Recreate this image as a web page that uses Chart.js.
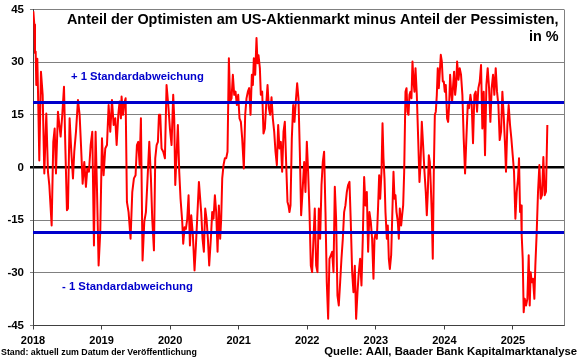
<!DOCTYPE html>
<html><head><meta charset="utf-8">
<script src="https://cdn.jsdelivr.net/npm/chart.js@4.4.1/dist/chart.umd.min.js"></script>
<style>html,body{margin:0;padding:0;background:#fff;overflow:hidden}canvas{display:block}</style>
</head><body>
<canvas id="c" width="580" height="359"></canvas>
<script>
// Weekly AAII bull-bear spread (decimal year, %)
const dates = [
2018.005,2018.019,2018.029,2018.039,2018.048,2018.063,2018.077,2018.092,2018.116,2018.141,2018.165,2018.194,2018.218,2018.238,2018.272,2018.296,2018.316,2018.335,2018.364,2018.384,2018.403,2018.427,2018.452,2018.471,2018.495,2018.510,2018.534,2018.559,2018.583,2018.602,2018.627,2018.656,2018.680,2018.700,2018.724,2018.748,2018.772,2018.792,2018.816,2018.841,2018.865,2018.889,2018.913,2018.933,2018.957,2018.981,2019.006,2019.030,2019.054,2019.079,2019.103,2019.127,2019.152,2019.176,2019.200,2019.220,
2019.244,2019.263,2019.282,2019.292,2019.312,2019.331,2019.351,2019.370,2019.394,2019.423,2019.448,2019.472,2019.496,2019.516,2019.535,2019.555,2019.574,2019.598,2019.623,2019.647,2019.671,2019.696,2019.720,2019.739,2019.764,2019.783,2019.803,2019.822,2019.837,2019.856,2019.875,2019.900,2019.924,2019.948,2019.973,2019.997,2020.021,2020.045,2020.060,2020.075,2020.094,2020.113,2020.133,2020.152,2020.177,2020.191,2020.211,2020.230,2020.250,2020.269,2020.289,2020.308,2020.332,2020.356,2020.376,2020.395,2020.420,
2020.453,2020.473,2020.492,2020.512,2020.531,2020.551,2020.570,2020.594,2020.614,2020.633,2020.653,2020.672,2020.692,2020.711,2020.730,2020.745,2020.760,2020.779,2020.798,2020.818,2020.837,2020.857,2020.876,2020.896,2020.915,2020.935,2020.954,2020.973,2020.993,2021.012,2021.032,2021.051,2021.075,2021.095,2021.114,2021.134,2021.153,2021.173,2021.192,2021.207,2021.221,2021.241,2021.260,2021.275,2021.289,2021.309,2021.323,2021.343,2021.362,2021.382,2021.401,2021.421,2021.440,2021.459,2021.479,2021.498,2021.518,2021.537,2021.557,2021.576,2021.595,2021.615,2021.634,2021.654,2021.673,
2021.692,2021.712,2021.726,2021.741,2021.756,2021.775,2021.795,2021.814,2021.833,2021.853,2021.872,2021.892,2021.911,2021.931,2021.955,2021.974,2021.994,2022.013,2022.033,2022.052,2022.071,2022.091,2022.110,2022.130,2022.149,2022.169,2022.188,2022.208,2022.227,2022.246,2022.266,2022.285,2022.305,2022.324,2022.344,2022.363,2022.383,2022.402,2022.421,2022.441,2022.460,2022.480,2022.499,2022.519,2022.538,2022.557,2022.577,2022.596,2022.616,2022.635,2022.655,2022.674,2022.694,2022.713,2022.733,2022.752,2022.771,2022.791,2022.810,2022.830,2022.849,2022.869,2022.888,2022.907,2022.927,2022.946,2022.966,
2022.981,2023.000,2023.015,2023.034,2023.049,2023.064,2023.083,2023.098,2023.112,2023.127,2023.141,2023.161,2023.175,2023.190,2023.205,2023.224,2023.239,2023.258,2023.273,2023.287,2023.302,2023.321,2023.336,2023.350,2023.370,2023.384,2023.399,2023.414,2023.433,2023.448,2023.462,2023.477,2023.491,2023.506,2023.520,2023.535,2023.550,2023.564,2023.579,2023.598,2023.618,2023.637,2023.652,2023.671,2023.690,2023.710,2023.729,2023.744,2023.759,2023.773,2023.788,2023.802,2023.817,2023.831,2023.846,2023.861,2023.875,2023.890,2023.904,2023.919,2023.934,2023.948,2023.963,2023.977,2023.992,2024.006,2024.021,2024.040,2024.055,2024.070,2024.084,2024.099,2024.113,2024.128,2024.142,2024.157,2024.172,2024.186,2024.206,
2024.224,2024.243,2024.263,2024.282,2024.302,2024.321,2024.341,2024.360,2024.380,2024.399,2024.418,2024.438,2024.457,2024.477,2024.496,2024.516,2024.535,2024.554,2024.574,2024.593,2024.613,2024.632,2024.652,2024.671,2024.690,2024.710,2024.729,2024.749,2024.768,2024.788,2024.807,2024.827,2024.846,2024.865,2024.885,2024.899,2024.919,2024.938,2024.958,2024.977,2024.997,2025.016,2025.036,2025.055,2025.075,2025.089,2025.104,2025.118,2025.128,2025.143,2025.157,2025.172,2025.191,2025.211,2025.230,2025.245,2025.259,2025.274,2025.293,2025.313,2025.327,2025.347,2025.366,2025.386,2025.405,2025.424,2025.444,2025.463,2025.482,2025.502
];
const spread = [
44.5,40.7,32.6,33.0,23.5,31.0,17.8,2.0,27.3,20.7,-1.7,15.4,-1.2,-5.0,-16.5,7.3,11.1,-1.7,15.9,12.1,8.8,15.0,23.0,6.4,-12.2,-11.7,14.0,4.5,-3.1,4.5,10.2,19.2,15.0,6.4,-4.6,1.6,-5.5,-0.3,-1.2,6.4,10.2,-22.2,10.2,-6.0,-27.9,-18.4,8.3,-2.2,5.4,6.4,17.8,10.2,19.2,12.1,14.0,6.4,
15.0,18.8,14.0,20.2,15.0,18.3,19.7,-9.8,-12.7,-20.3,-7.0,-3.1,-2.2,6.4,7.3,0.7,14.0,-26.5,-15.5,-12.7,-3.1,7.3,-3.1,-14.6,-23.6,2.6,6.4,7.3,15.0,15.0,5.4,4.5,2.6,23.5,17.8,11.1,6.4,20.7,14.0,-5.0,3.5,12.1,-1.2,-8.9,-15.5,-21.7,-17.0,-17.5,-14.6,-7.9,-22.2,-13.6,-19.3,-29.3,-22.2,-14.6,-4.1,
-12.7,-20.3,-24.0,-11.7,-14.6,-20.3,-27.9,-20.3,-12.7,-14.6,-7.9,-12.7,-24.0,-10.8,-20.3,-14.6,-3.1,0.7,2.6,2.6,4.5,31.1,18.8,19.7,26.4,20.7,21.6,17.8,20.7,14.0,13.0,8.3,-0.3,15.0,19.7,21.6,22.6,15.0,26.4,23.5,31.1,26.4,36.9,29.7,32.0,28.3,20.7,21.6,9.7,11.1,17.8,23.5,16.9,15.0,20.0,14.0,10.2,4.5,0.7,12.1,5.4,7.3,-1.2,10.2,13.0,
1.6,-9.8,-10.8,-12.7,-10.8,8.3,17.8,13.0,18.8,24.0,19.7,4.5,-13.6,-7.0,1.6,-7.0,7.3,-1.2,-12.7,-27.9,-29.8,-20.3,-11.7,-27.9,-29.8,-11.7,-20.3,-5.0,1.6,4.5,-12.7,-32.7,-43.1,-26.0,-25.0,-24.0,-29.8,-5.5,-14.6,-36.5,-39.3,-32.7,-26.0,-20.3,-12.7,-10.8,-7.0,-5.0,-4.1,-15.5,-29.8,-35.5,-28.0,-43.1,-35.5,-29.8,-26.0,-33.6,-20.3,-2.7,-10.8,-7.0,-24.0,-12.7,-15.5,-20.3,-31.7,
-20.3,-18.4,-20.3,-10.8,-2.2,-8.9,-1.2,12.6,2.6,-3.1,-12.7,-20.3,-16.5,-26.0,-28.9,-25.0,-14.6,-1.2,-8.9,-7.9,-12.7,-15.5,-20.3,-11.7,-16.5,-13.6,-10.8,-1.2,21.6,22.6,15.9,15.0,20.7,21.6,19.7,30.2,24.5,21.6,28.3,20.7,8.3,-4.1,0.7,13.0,6.4,-1.2,-7.0,-13.6,-7.0,3.5,1.6,-5.0,-13.6,-26.0,-1.2,15.0,15.9,20.7,28.3,22.6,27.3,32.1,30.2,24.5,24.5,21.6,23.5,14.0,13.0,17.8,26.4,21.6,18.8,23.5,27.3,20.7,23.5,30.2,25.0,
28.3,26.4,20.7,8.3,-1.7,8.3,17.8,16.9,20.7,17.8,6.9,20.7,21.6,15.9,22.6,24.5,29.2,11.1,21.6,3.5,23.5,28.3,22.6,13.0,22.6,26.4,20.7,28.3,21.6,17.8,7.8,10.2,21.6,15.0,6.4,-1.2,12.1,17.8,12.1,8.3,3.5,-1.2,-14.6,-7.0,-3.0,2.6,-12.7,-10.8,-19.3,-26.0,-41.2,-37.4,-39.3,-37.4,-25.0,-39.3,-29.8,-32.7,-31.7,-37.4,-27.9,-18.4,-7.0,0.7,-8.9,-7.9,3.0,-7.9,-6.9,12.1
];
const yearTicks = [2018,2019,2020,2021,2022,2023,2024,2025];
const valueTicks = [-45,-30,-15,0,15,30,45];
const stdDevBand = 18.5;
const xRange = [2018, 2025.745];
const yRange = [-45, 45];
const titleLines = ['Anteil der Optimisten am US-Aktienmarkt minus Anteil der Pessimisten,', 'in %'];
const bandLabels = ['+ 1 Standardabweichung', '- 1 Standardabweichung'];
const footLeft = 'Stand: aktuell zum Datum der Veröffentlichung';
const footRight = 'Quelle: AAII, Baader Bank Kapitalmarktanalyse';

const FONT = '"Liberation Sans", Arial, Helvetica, sans-serif';
const BLUE = '#0000CC';

function fitFont(ctx, text, width, base) {
  ctx.font = 'bold ' + base + 'px ' + FONT;
  const w = ctx.measureText(text).width;
  return 'bold ' + (base * width / w).toFixed(2) + 'px ' + FONT;
}

const decorPlugin = {
  id: 'decor',
  beforeDatasetsDraw(chart) {
    const {ctx, chartArea: a} = chart;
    ctx.save();
    ctx.strokeStyle = '#808080';
    ctx.lineWidth = 1;
    ctx.beginPath();
    ctx.moveTo(Math.round(a.right) + 0.5, a.top);
    ctx.lineTo(Math.round(a.right) + 0.5, a.bottom);
    ctx.stroke();
    ctx.restore();
  },
  afterDraw(chart) {
    const {ctx} = chart;
    const ys = chart.scales.y;
    ctx.save();
    ctx.textBaseline = 'middle';
    // title
    ctx.fillStyle = '#000';
    ctx.textAlign = 'right';
    ctx.font = fitFont(ctx, titleLines[0], 492, 13);
    ctx.fillText(titleLines[0], 558.5, 20.5);
    ctx.fillText(titleLines[1], 558.5, 37.5);
    // band labels
    ctx.fillStyle = BLUE;
    ctx.textAlign = 'left';
    ctx.font = fitFont(ctx, bandLabels[0], 133, 11);
    ctx.fillText(bandLabels[0], 71, ys.getPixelForValue(stdDevBand) - 25.5);
    ctx.font = fitFont(ctx, bandLabels[1], 131, 11);
    ctx.fillText(bandLabels[1], 62, ys.getPixelForValue(-stdDevBand) + 54);
    // footers
    ctx.fillStyle = '#000';
    ctx.font = fitFont(ctx, footLeft, 196, 9);
    ctx.fillText(footLeft, 1, 352.5);
    ctx.textAlign = 'right';
    ctx.font = fitFont(ctx, footRight, 253, 10.5);
    ctx.fillText(footRight, 577, 352);
    ctx.restore();
  }
};

const points = dates.map((d, i) => ({x: d, y: spread[i]}));
const upper = xRange.map(d => ({x: d, y: stdDevBand}));
const lower = xRange.map(d => ({x: d, y: -stdDevBand}));

new Chart(document.getElementById('c'), {
  type: 'line',
  data: {
    datasets: [
      {data: points, borderColor: '#FF0000', borderWidth: 2, pointRadius: 0, tension: 0, borderJoinStyle: 'round', order: 2},
      {data: upper, borderColor: BLUE, borderWidth: 3, pointRadius: 0, order: 1},
      {data: lower, borderColor: BLUE, borderWidth: 3, pointRadius: 0, order: 1}
    ]
  },
  options: {
    responsive: false,
    devicePixelRatio: 1,
    animation: false,
    events: [],
    layout: {padding: {left: 0, top: 9.5, right: 16, bottom: 0}},
    plugins: {legend: {display: false}, tooltip: {enabled: false}, title: {display: false}},
    scales: {
      x: {
        type: 'linear',
        min: xRange[0], max: xRange[1],
        afterBuildTicks: s => { s.ticks = yearTicks.map(v => ({value: v})); },
        afterFit: s => { s.height = 33.5; s.paddingLeft = 0; s.paddingRight = 0; },
        ticks: {color: '#000', font: {family: FONT, size: 11, weight: 'bold'}, padding: 5, maxRotation: 0, autoSkip: false, callback: v => String(v)},
        grid: {drawOnChartArea: false, drawTicks: true, tickLength: 4, color: '#404040'},
        border: {display: true, color: '#404040', width: 1}
      },
      y: {
        min: yRange[0], max: yRange[1],
        afterBuildTicks: s => { s.ticks = valueTicks.map(v => ({value: v})); },
        afterFit: s => { s.width = 33; s.paddingTop = 0; s.paddingBottom = 0; },
        ticks: {color: '#000', font: {family: FONT, size: 11.5, weight: 'bold'}, padding: 6, callback: v => String(v)},
        grid: {
          drawTicks: true, tickLength: 3,
          color: c => (c.tick && c.tick.value === 0) ? '#000' : '#808080',
          lineWidth: c => (c.tick && c.tick.value === 0) ? 2.5 : 1
        },
        border: {display: true, color: '#404040', width: 1}
      }
    }
  },
  plugins: [decorPlugin]
});
</script>
</body></html>
